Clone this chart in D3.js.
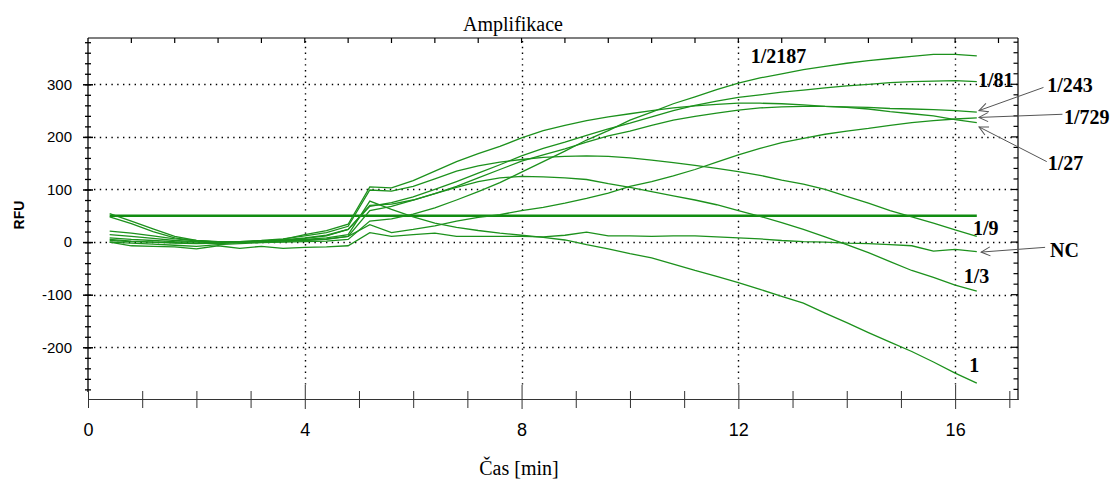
<!DOCTYPE html>
<html lang="cs">
<head>
    <meta charset="UTF-8">
    <title>Amplifikace</title>
    <style>
        body {
            margin: 0;
            background: #ffffff;
        }

        .tick-label {
            font-family: 'Liberation Sans', Arial, sans-serif;
            fill: #000;
        }

        .serif {
            font-family: 'Liberation Serif', 'Times New Roman', serif;
            fill: #000;
        }

        .curve {
            fill: none;
            stroke: #1c911c;
            stroke-width: 1.3;
        }
    </style>
</head>
<body>
    <svg id="chart" width="1115" height="480"></svg>

    <script src="https://d3js.org/d3.v7.min.js"></script>
    <script>
        // time in minutes, one reading every 0.4 min
        const times = [0.4, 0.8, 1.2, 1.6, 2.0, 2.4, 2.8, 3.2, 3.6, 4.0, 4.4, 4.8, 5.2, 5.6, 6.0, 6.4, 6.8, 7.2, 7.6, 8.0, 8.4,
                       8.8, 9.2, 9.6, 10.0, 10.4, 10.8, 11.2, 11.6, 12.0, 12.4, 12.8, 13.2, 13.6, 14.0, 14.4, 14.8, 15.2, 15.6, 16.0, 16.4];

        // RFU per dilution
        const rfu1    = [48, 35, 20, 8, 2, 1, 1, 2, 3, 5, 8, 14, 78, 62, 48, 36, 28, 22, 17, 13, 9, 4, -5, -13, -22, -30, -42, -54, -65, -77, -90, -103, -116, -135, -153, -172, -190, -208, -228, -249, -268];
        const rfu3    = [54, 40, 25, 11, 3, 0, -1, 0, 3, 7, 12, 24, 70, 72, 80, 92, 104, 115, 122, 125, 124, 122, 119, 111, 104, 96, 88, 80, 71, 60, 49, 37, 24, 10, -5, -20, -37, -54, -67, -82, -93];
        const rfu9    = [14, 11, 7, 3, 1, 0, 1, 3, 6, 12, 18, 30, 99, 97, 106, 120, 135, 145, 152, 157, 161, 163, 164, 163, 160, 156, 151, 146, 140, 134, 127, 118, 110, 100, 87, 74, 60, 48, 36, 23, 11];
        const rfu27   = [21, 17, 12, 6, 3, 1, 0, 2, 5, 14, 22, 34, 105, 103, 117, 135, 153, 168, 182, 198, 212, 222, 231, 238, 244, 250, 255, 259, 262, 264, 264, 263, 261, 258, 256, 253, 248, 244, 240, 233, 227];
        const rfu81   = [8, 5, 3, 1, 0, -1, 0, 2, 4, 8, 13, 24, 68, 75, 86, 100, 115, 131, 147, 164, 178, 190, 203, 215, 226, 238, 250, 260, 268, 275, 280, 285, 289, 293, 297, 300, 303, 305, 306, 307, 305];
        const rfu243  = [3, 1, 0, -2, -3, -2, 0, 1, 2, 4, 6, 11, 60, 68, 80, 92, 106, 122, 138, 154, 166, 177, 190, 202, 211, 222, 232, 239, 245, 251, 255, 257, 258, 258, 257, 256, 254, 253, 252, 250, 247];
        const rfu729  = [5, 2, 0, -1, -2, -3, -1, 0, 1, 3, 5, 11, 33, 18, 24, 31, 40, 47, 52, 60, 66, 74, 83, 93, 106, 115, 126, 138, 152, 166, 178, 189, 197, 205, 211, 216, 222, 227, 231, 234, 236];
        const rfu2187 = [0, -2, -4, -6, -8, -5, -3, -1, 0, 1, 2, 5, 40, 44, 53, 65, 80, 96, 113, 133, 153, 173, 194, 212, 232, 247, 263, 276, 290, 302, 312, 320, 328, 334, 340, 345, 349, 353, 357, 357, 354];
        const rfuNC   = [0, -7, -8, -9, -13, -7, -12, -8, -12, -10, -9, -7, 18, 11, 14, 17, 11, 11, 11, 11, 10, 13, 19, 12, 12, 11, 12, 12, 10, 8, 6, 3, 1, 0, -2, -3, -5, -7, -17, -14, -18];

        const seriesNames = ['1', '1/3', '1/9', '1/27', '1/81', '1/243', '1/729', '1/2187', 'NC'];
        const seriesValues = [rfu1, rfu3, rfu9, rfu27, rfu81, rfu243, rfu729, rfu2187, rfuNC];

        const threshold = 50;

        const xTickLabels = [0, 4, 8, 12, 16];
        const yTickLabels = [-200, -100, 0, 100, 200, 300];

        // label text, label anchor [min, RFU], optional arrow [min, RFU]
        const annotations = [
            { text: '1/2187', at: [12.23, 340] },
            { text: '1/81',   at: [16.42, 295] },
            { text: '1/243',  at: [17.70, 286], from: [17.63, 294], to: [16.44, 250] },
            { text: '1/729',  at: [18.01, 225], from: [17.98, 243], to: [16.44, 237] },
            { text: '1/27',   at: [17.71, 137], from: [17.69, 153], to: [16.44, 219] },
            { text: '1/9',    at: [16.33, 13] },
            { text: 'NC',     at: [17.75, -28], from: [17.66, -10], to: [16.48, -19] },
            { text: '1/3',    at: [16.16, -78] },
            { text: '1',      at: [16.26, -247] }
        ];

        const svg = d3.select('#chart');

        const plotLeft = 88, plotRight = 1018, plotTop = 38, plotBottom = 392, xAxisY = 399;

        const x = d3.scaleLinear().domain([0, 17.16]).range([plotLeft, plotRight]);
        const y = d3.scaleLinear().domain([-285, 388]).range([plotBottom, plotTop]);

        // arrow head
        svg.append('defs').append('marker')
            .attr('id', 'head')
            .attr('viewBox', '-10 -6 12 12')
            .attr('refX', 0)
            .attr('refY', 0)
            .attr('markerWidth', 12)
            .attr('markerHeight', 12)
            .attr('markerUnits', 'userSpaceOnUse')
            .attr('orient', 'auto')
            .append('path')
            .attr('d', 'M-9,-4.5L0,0L-9,4.5')
            .attr('fill', 'none')
            .attr('stroke', '#555')
            .attr('stroke-width', 1);

        // title
        svg.append('text')
            .attr('class', 'serif')
            .attr('x', 513)
            .attr('y', 31)
            .attr('text-anchor', 'middle')
            .style('font-size', '20px')
            .text('Amplifikace');

        // dotted grid
        const grid = svg.append('g')
            .attr('stroke', '#000')
            .attr('stroke-width', 1.4)
            .attr('stroke-dasharray', '1.4 4.4');

        grid.selectAll('.hgrid')
            .data(yTickLabels)
            .join('line')
            .attr('x1', plotLeft + 6)
            .attr('x2', plotRight)
            .attr('y1', d => Math.round(y(d)) + 0.5)
            .attr('y2', d => Math.round(y(d)) + 0.5);

        grid.selectAll('.vgrid')
            .data(xTickLabels.filter(d => d > 0))
            .join('line')
            .attr('x1', d => Math.round(x(d)) + 0.5)
            .attr('x2', d => Math.round(x(d)) + 0.5)
            .attr('y1', plotTop + 3)
            .attr('y2', 386);

        // frame: top and right sides with inward ticks
        const frame = svg.append('g').attr('stroke', '#000').attr('stroke-width', 1.2);

        frame.append('line')
            .attr('x1', plotLeft).attr('x2', plotRight)
            .attr('y1', plotTop).attr('y2', plotTop);
        frame.append('line')
            .attr('x1', plotRight).attr('x2', plotRight)
            .attr('y1', plotTop).attr('y2', xAxisY + 1);

        frame.selectAll('.top-tick')
            .data(d3.range(0.8, 17, 0.8))
            .join('line')
            .attr('x1', d => x(d)).attr('x2', d => x(d))
            .attr('y1', plotTop).attr('y2', plotTop + 5);

        frame.selectAll('.right-tick')
            .data(d3.range(-280, 388, 20))
            .join('line')
            .attr('x1', d => d % 100 === 0 ? plotRight - 7 : plotRight - 4.5)
            .attr('x2', plotRight)
            .attr('y1', d => y(d)).attr('y2', d => y(d));

        // left axis, minor ticks every 20 crossing the line
        const yMinor = svg.append('g')
            .attr('transform', `translate(${plotLeft},0)`)
            .call(d3.axisLeft(y)
                .tickValues(d3.range(-280, 388, 20))
                .tickSize(3)
                .tickSizeOuter(0)
                .tickFormat(''));
        yMinor.select('.domain').remove();
        yMinor.selectAll('.tick line').attr('x2', 3).attr('x1', -3).attr('stroke-width', 1.3);

        const yMajor = svg.append('g')
            .attr('transform', `translate(${plotLeft},0)`)
            .call(d3.axisLeft(y)
                .tickValues(yTickLabels)
                .tickSize(5)
                .tickPadding(11)
                .tickSizeOuter(0)
                .tickFormat(d => String(d)));
        yMajor.select('.domain').remove();
        yMajor.selectAll('.tick line').attr('x1', -5).attr('x2', 5).attr('stroke-width', 1.5);
        yMajor.selectAll('.tick text')
            .attr('class', 'tick-label')
            .style('font-size', '15px');

        svg.append('line')
            .attr('x1', plotLeft).attr('x2', plotLeft)
            .attr('y1', plotTop).attr('y2', plotBottom)
            .attr('stroke', '#000')
            .attr('stroke-width', 1.3);

        // bottom axis
        const xAxis = svg.append('g')
            .attr('transform', `translate(0,${xAxisY})`)
            .call(d3.axisBottom(x)
                .tickValues(d3.range(0, 18, 1))
                .tickSize(9)
                .tickSizeOuter(0)
                .tickFormat(d => xTickLabels.includes(d) ? d : ''));
        xAxis.select('.domain').attr('stroke', '#333').attr('stroke-width', 1.2);
        xAxis.selectAll('.tick line')
            .attr('stroke', '#333')
            .attr('y1', d => xTickLabels.includes(d) && d > 0 ? -14 : -8)
            .attr('y2', d => xTickLabels.includes(d) && d > 0 ? 10 : 9);
        xAxis.selectAll('.tick text')
            .attr('class', 'tick-label')
            .attr('y', 24)
            .style('font-size', '18px');

        // axis titles
        svg.append('text')
            .attr('transform', 'translate(24,215) rotate(-90)')
            .attr('text-anchor', 'middle')
            .style('font-family', "'Liberation Sans', Arial, sans-serif")
            .style('font-weight', 'bold')
            .style('font-size', '14px')
            .text('RFU');

        svg.append('text')
            .attr('class', 'serif')
            .attr('x', 519)
            .attr('y', 475)
            .attr('text-anchor', 'middle')
            .style('font-size', '20px')
            .text('Čas [min]');

        // threshold
        svg.append('line')
            .attr('x1', x(times[0]))
            .attr('x2', x(times[times.length - 1]))
            .attr('y1', y(threshold))
            .attr('y2', y(threshold))
            .attr('stroke', '#118c11')
            .attr('stroke-width', 2.6);

        // curves
        const line = d3.line()
            .x(d => x(d[0]))
            .y(d => y(d[1]));

        const curves = seriesNames.map((name, i) => ({
            name: name,
            points: times.map((t, j) => [t, seriesValues[i][j]])
        }));

        svg.append('g')
            .selectAll('path')
            .data(curves)
            .join('path')
            .attr('class', 'curve')
            .attr('d', d => line(d.points));

        // labels and arrows
        const notes = svg.append('g');

        notes.selectAll('line')
            .data(annotations.filter(a => a.from))
            .join('line')
            .attr('x1', d => x(d.from[0]))
            .attr('y1', d => y(d.from[1]))
            .attr('x2', d => x(d.to[0]))
            .attr('y2', d => y(d.to[1]))
            .attr('stroke', '#555')
            .attr('stroke-width', 1)
            .attr('marker-end', 'url(#head)');

        notes.selectAll('text')
            .data(annotations)
            .join('text')
            .attr('class', 'serif')
            .attr('x', d => x(d.at[0]))
            .attr('y', d => y(d.at[1]))
            .style('font-size', '20px')
            .style('font-weight', 'bold')
            .text(d => d.text);
    </script>
</body>
</html>
